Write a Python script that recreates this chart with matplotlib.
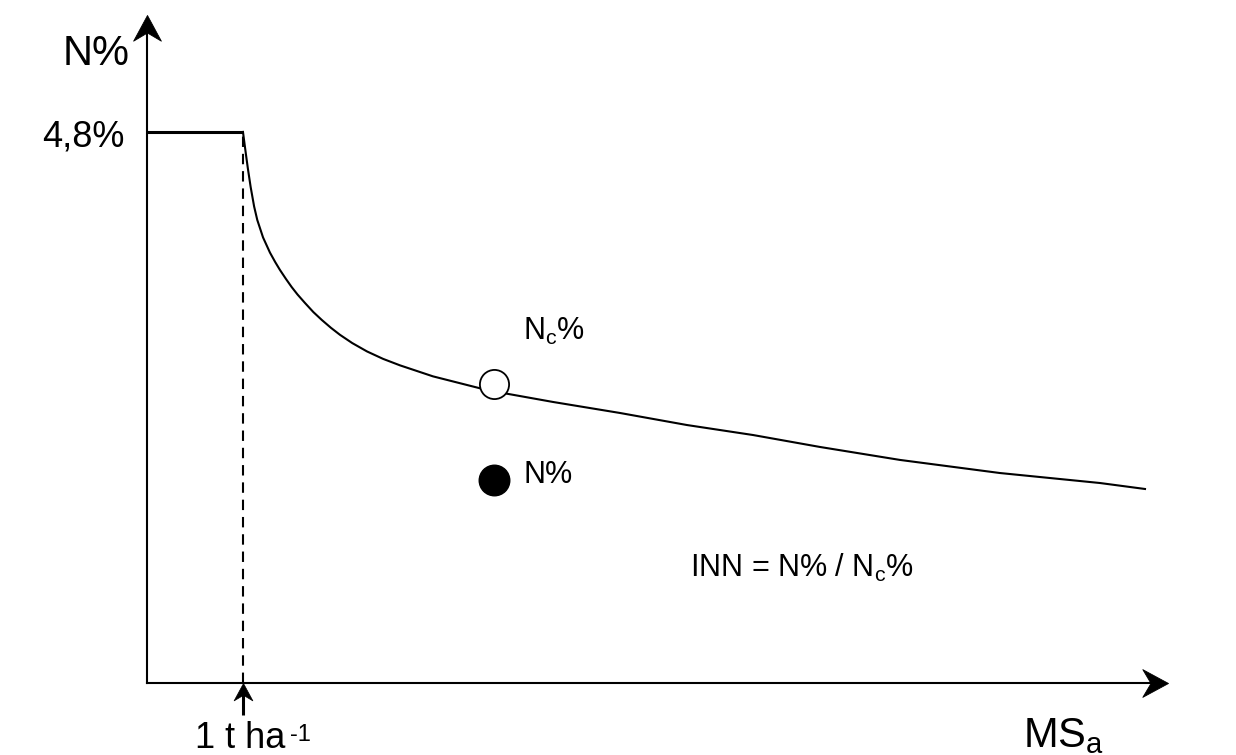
import matplotlib
matplotlib.use('Agg')
import matplotlib.pyplot as plt
from matplotlib.path import Path
from matplotlib.markers import MarkerStyle

plt.rcParams['font.family'] = ['Liberation Sans', 'DejaVu Sans']
plt.rcParams['mathtext.fontset'] = 'custom'
plt.rcParams['mathtext.rm'] = 'Liberation Sans'
plt.rcParams['mathtext.it'] = 'Liberation Sans'
plt.rcParams['mathtext.bf'] = 'Liberation Sans:bold'

# critical N dilution curve (MS in t/ha, N in %)
plateau_x = [0.0, 1.0]
plateau_y = [4.8, 4.8]
curve_x = [1.0, 1.031, 1.051, 1.080, 1.116, 1.149, 1.209, 1.281, 1.336, 1.385,
           1.448, 1.507, 1.568, 1.646, 1.733, 1.820, 1.916, 2.010, 2.138, 2.292,
           2.460, 2.635, 2.979, 3.469, 3.615, 4.229, 4.927, 5.625, 6.313, 7.010,
           7.844, 8.885, 9.927, 10.396]
curve_y = [4.8, 4.603, 4.481, 4.320, 4.151, 4.033, 3.881, 3.749, 3.666, 3.598,
           3.519, 3.449, 3.384, 3.310, 3.231, 3.163, 3.094, 3.033, 2.961, 2.888,
           2.823, 2.767, 2.671, 2.567, 2.540, 2.448, 2.352, 2.247, 2.160, 2.056,
           1.943, 1.829, 1.742, 1.690]
nc_point = (3.615, 2.605)
n_point = (3.615, 1.768)
x_max = 10.635
y_max = 5.82
threshold = 1.0

# notched arrowhead, tip at the origin, pointing right
head = Path([(0, 0), (-25, 13.5), (-17, 0), (-25, -13.5), (0, 0)],
            [Path.MOVETO, Path.LINETO, Path.LINETO, Path.LINETO, Path.CLOSEPOLY])
head_right = MarkerStyle(head)
head_up = MarkerStyle(head).rotated(deg=90)

fig = plt.figure(figsize=(12.36, 7.55), dpi=100)
ax = fig.add_axes([0, 0, 1, 1])
ax.set_xlim(-1.531, 11.344)
ax.set_ylim(-0.627, 5.949)
ax.axis('off')

# axes with arrows
ax.plot([0, 0], [0, y_max - 0.15], color='black', lw=1.5)
ax.plot([0, x_max - 0.15], [0, 0], color='black', lw=1.5)
ax.plot(0, y_max, marker=head_up, ms=37, color='black', mec='black', mew=0.6)
ax.plot(x_max, 0, marker=head_right, ms=37, color='black', mec='black', mew=0.6)

# plateau, dashed marker and curve
ax.plot(plateau_x, plateau_y, color='black', lw=2.2, solid_capstyle='butt')
ax.plot([threshold, threshold], [0, 4.8], color='black', lw=1.5, dashes=(5, 3.3))
ax.plot(curve_x, curve_y, color='black', lw=1.5, solid_joinstyle='round')

ax.plot(*nc_point, 'o', ms=21, mfc='white', mec='black', mew=1.3)
ax.plot(*n_point, 'o', ms=22, color='black')

# small arrow at 1 t/ha
ax.plot([threshold, threshold], [-0.28, -0.08], color='black', lw=2.2, solid_capstyle='butt')
ax.plot(threshold, 0, marker=head_up, ms=25, color='black', mec='black', mew=0.5)

# labels
ax.text(-0.177, 5.383, 'N%', fontsize=30, ha='right', va='baseline')
ax.text(-0.229, 4.669, '4,8%', fontsize=26, ha='right', va='baseline')
ax.text(0.5, -0.562, '1 t ha', fontsize=26, ha='left', va='baseline')
ax.text(1.49, -0.505, '-1', fontsize=17, ha='left', va='baseline')
ax.text(9.125, -0.557, r'MS$_{\mathregular{a}}$', fontsize=30, ha='left', va='baseline')
ax.text(3.917, 2.988, r'N$_{\mathregular{c}}$%', fontsize=22, ha='left', va='baseline')
ax.text(3.917, 1.742, 'N%', fontsize=22, ha='left', va='baseline')
ax.text(5.656, 0.923, r'INN = N% / N$_{\mathregular{c}}$%', fontsize=22, ha='left', va='baseline')

fig.savefig('out.png', dpi=100)
